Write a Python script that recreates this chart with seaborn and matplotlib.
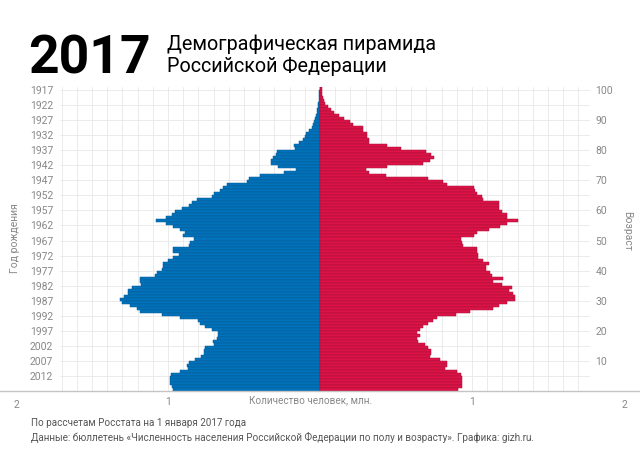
import numpy as np
import pandas as pd
import matplotlib
matplotlib.use("Agg")
import matplotlib.pyplot as plt
import seaborn as sns
from matplotlib.lines import Line2D
from matplotlib.ticker import MultipleLocator, FuncFormatter

# год рождения 1916 (100+ лет) ... 2016 (0 лет)
years = list(range(1916, 2017))

# мужчины, млн
men = [
    0.003, 0.004, 0.005, 0.007, 0.008, 0.010, 0.013, 0.017, 0.021, 0.026,   # 1916-1925
    0.030, 0.037, 0.045, 0.055, 0.070, 0.090, 0.100, 0.115, 0.140, 0.170,   # 1926-1935
    0.165, 0.285, 0.290, 0.310, 0.320, 0.320, 0.275, 0.155, 0.240, 0.395,   # 1936-1945
    0.470, 0.480, 0.610, 0.635, 0.660, 0.700, 0.710, 0.810, 0.845, 0.865,   # 1946-1955
    0.910, 0.955, 0.975, 1.010, 1.080, 1.010, 0.965, 0.920, 0.890, 0.900,   # 1956-1965
    0.830, 0.855, 0.865, 0.970, 0.965, 0.930, 0.965, 1.000, 1.030, 1.035,   # 1966-1975
    1.040, 1.075, 1.085, 1.185, 1.185, 1.175, 1.240, 1.260, 1.260, 1.290,   # 1976-1985
    1.315, 1.305, 1.250, 1.205, 1.185, 1.040, 0.920, 0.800, 0.790, 0.755,   # 1986-1995
    0.710, 0.670, 0.670, 0.680, 0.705, 0.700, 0.755, 0.765, 0.765, 0.780,   # 1996-2005
    0.820, 0.865, 0.875, 0.870, 0.920, 0.980, 0.985, 0.990, 0.990, 0.975,   # 2006-2015
    0.965,                                                                  # 2016
]

# женщины, млн
women = [
    0.012, 0.010, 0.012, 0.020, 0.025, 0.035, 0.050, 0.070, 0.090, 0.125,   # 1916-1925
    0.155, 0.195, 0.220, 0.285, 0.285, 0.310, 0.310, 0.325, 0.325, 0.440,   # 1926-1935
    0.530, 0.700, 0.730, 0.750, 0.725, 0.675, 0.440, 0.300, 0.325, 0.435,   # 1936-1945
    0.710, 0.810, 0.835, 1.015, 1.020, 1.030, 1.065, 1.070, 1.175, 1.180,   # 1946-1955
    1.175, 1.195, 1.230, 1.230, 1.305, 1.230, 1.185, 1.110, 1.030, 1.010,   # 1956-1965
    0.925, 0.935, 0.940, 1.030, 1.030, 1.040, 1.040, 1.070, 1.110, 1.095,   # 1966-1975
    1.095, 1.120, 1.130, 1.205, 1.135, 1.195, 1.260, 1.245, 1.270, 1.280,   # 1976-1985
    1.285, 1.230, 1.175, 1.140, 0.985, 0.895, 0.770, 0.745, 0.710, 0.680,   # 1986-1995
    0.660, 0.635, 0.655, 0.635, 0.645, 0.690, 0.710, 0.730, 0.730, 0.725,   # 1996-2005
    0.790, 0.835, 0.835, 0.825, 0.900, 0.930, 0.935, 0.935, 0.935, 0.935,   # 2006-2015
    0.910,                                                                  # 2016
]

year_labels = list(range(1917, 2013, 5))
age_labels = list(range(100, 0, -10))

BLUE = "#0072bb"
RED = "#dc1446"
GREY = "#888888"

df = pd.DataFrame({"year": years, "men": men, "women": women})
df["men_neg"] = -df["men"]

sns.set_style("white")
plt.rcParams["font.family"] = ["Roboto", "DejaVu Sans"]

fig = plt.figure(figsize=(6.4, 4.5), dpi=100)
W, H = 640, 450
ax = fig.add_axes([60 / W, 1 - 391 / H, 530 / W, 304 / H])

sns.barplot(data=df, x="men_neg", y="year", orient="y", native_scale=True,
            color=BLUE, saturation=1, width=1, errorbar=None,
            edgecolor="#0a5a94", linewidth=0.35, ax=ax)
sns.barplot(data=df, x="women", y="year", orient="y", native_scale=True,
            color=RED, saturation=1, width=1, errorbar=None,
            edgecolor="#a50f3a", linewidth=0.35, ax=ax)

ax.set_xlim(-260 / 152, 270 / 152)
ax.set_ylim(2016.5, 1915.5)

ax.xaxis.set_major_locator(MultipleLocator(0.1))
ax.xaxis.set_major_formatter(
    FuncFormatter(lambda v, _: "1" if abs(abs(v) - 1) < 1e-6 else ""))
ax.set_yticks([y - 0.5 for y in year_labels])
ax.set_yticklabels([str(y) for y in year_labels])
ax.grid(True, color="#e8e8e8", linewidth=0.6)
ax.set_axisbelow(True)
ax.tick_params(axis="both", length=0, labelsize=7.5, labelcolor=GREY)
ax.tick_params(axis="x", pad=4)
ax.tick_params(axis="y", pad=5)
ax.set_xlabel("")
ax.set_ylabel("")
for s in ax.spines.values():
    s.set_visible(False)

for v in (-2, 2):
    ax.text(v, -0.03, "2", transform=ax.get_xaxis_transform(), ha="center",
            va="top", fontsize=7.5, color=GREY, clip_on=False)

ax2 = ax.twinx()
ax2.set_ylim(ax.get_ylim())
ax2.set_yticks([2016.5 - a for a in age_labels])
ax2.set_yticklabels([str(a) for a in age_labels])
ax2.tick_params(axis="y", length=0, labelsize=7.5, labelcolor=GREY, pad=4)
for s in ax2.spines.values():
    s.set_visible(False)

fig.add_artist(Line2D([0, 1], [1 - 391 / H] * 2, transform=fig.transFigure,
                      color="#c4c4c4", linewidth=1))

fig.text(28 / W, 1 - 73 / H, "2017", fontsize=38.5, fontweight="bold",
         color="black", va="baseline", ha="left")
fig.text(167 / W, 1 - 50 / H, "Демографическая пирамида", fontsize=14.2,
         color="black", va="baseline", ha="left")
fig.text(167 / W, 1 - 72.5 / H, "Российской Федерации", fontsize=14.2,
         color="black", va="baseline", ha="left")

fig.text(15 / W, 1 - 238 / H, "Год рождения", rotation=90, fontsize=7.5,
         color=GREY, ha="center", va="center")
fig.text(627 / W, 1 - 231 / H, "Возраст", rotation=270, fontsize=7.5,
         color=GREY, ha="center", va="center")
fig.text(311 / W, 1 - 400 / H, "Количество человек, млн.", fontsize=7.2,
         color=GREY, ha="center", va="center")

fig.text(31 / W, 1 - 423 / H, "По рассчетам Росстата на 1 января 2017 года",
         fontsize=7.15, color="#555555", ha="left", va="center")
fig.text(31 / W, 1 - 437 / H,
         "Данные: бюллетень «Численность населения Российской Федерации "
         "по полу и возрасту». Графика: gizh.ru.",
         fontsize=7.15, color="#555555", ha="left", va="center")

fig.savefig("out.png", dpi=100)
